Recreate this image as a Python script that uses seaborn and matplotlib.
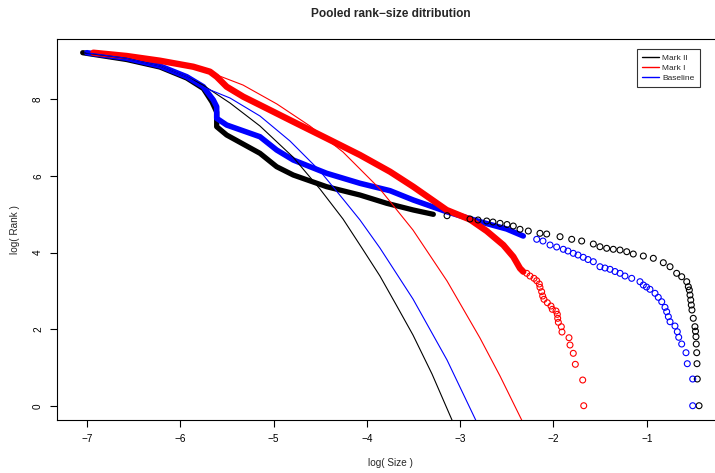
import matplotlib
matplotlib.use("Agg")
import matplotlib.pyplot as plt
from matplotlib.lines import Line2D
import seaborn as sns

# ---------------- data (log Size, log Rank) ----------------
# Mark II (black): dense part of the rank-size points
mk2_band_x = [-7.046, -6.574, -6.218, -5.931, -5.753, -5.660, -5.610, -5.610, -5.503, -5.146,
              -4.967, -4.789, -4.431, -4.074, -3.788, -3.503, -3.288]
mk2_band_y = [9.217, 9.039, 8.843, 8.556, 8.282, 7.930, 7.668, 7.285, 7.068, 6.590,
              6.240, 6.023, 5.718, 5.501, 5.285, 5.110, 4.997]
# Mark II (black): separated points of the tail
mk2_pts_x = [-3.141, -2.895, -2.809, -2.716, -2.649, -2.573, -2.498, -2.431, -2.359, -2.270,
             -2.145, -2.073, -1.930, -1.805, -1.698, -1.573, -1.502, -1.430, -1.359, -1.287,
             -1.215, -1.145, -1.037, -0.930, -0.823, -0.751, -0.680, -0.626, -0.572, -0.555,
             -0.544, -0.537, -0.529, -0.523, -0.516, -0.502, -0.484, -0.478, -0.473, -0.470,
             -0.465, -0.462, -0.459, -0.440]
mk2_pts_y = [4.961, 4.875, 4.849, 4.823, 4.796, 4.762, 4.731, 4.692, 4.606, 4.561,
             4.501, 4.483, 4.413, 4.345, 4.300, 4.222, 4.151, 4.110, 4.084, 4.065,
             4.021, 3.961, 3.909, 3.849, 3.734, 3.629, 3.457, 3.368, 3.238, 3.107,
             3.021, 2.890, 2.760, 2.629, 2.499, 2.282, 2.063, 1.945, 1.802, 1.611,
             1.384, 1.097, 0.697, 0.000]
# Mark II fitted curve
mk2_fit_x = [-7.046, -6.574, -6.218, -5.931, -5.757, -5.467, -5.146, -4.792, -4.503, -4.256,
             -4.053, -3.860, -3.685, -3.506, -3.302, -3.088]
mk2_fit_y = [9.217, 9.071, 8.870, 8.590, 8.373, 7.903, 7.303, 6.493, 5.658, 4.875,
             4.117, 3.386, 2.629, 1.846, 0.828, -0.373]

# Mark I (red)
mk1_band_x = [-6.932, -6.574, -6.218, -5.861, -5.682, -5.610, -5.503, -5.325, -5.146, -4.789,
              -4.431, -4.074, -3.752, -3.503, -3.145, -2.895, -2.716, -2.538, -2.431, -2.359,
              -2.324]
mk1_band_y = [9.217, 9.131, 9.008, 8.851, 8.721, 8.590, 8.329, 8.068, 7.851, 7.415,
              6.982, 6.546, 6.110, 5.718, 5.110, 4.862, 4.561, 4.196, 3.890, 3.587,
              3.499]
mk1_pts_x = [-2.287, -2.252, -2.209, -2.180, -2.152, -2.145, -2.127, -2.116, -2.102, -2.066,
             -2.027, -2.013, -1.973, -1.959, -1.955, -1.948, -1.916, -1.909, -1.834, -1.823,
             -1.788, -1.766, -1.687, -1.676]
mk1_pts_y = [3.457, 3.386, 3.326, 3.264, 3.178, 3.091, 2.977, 2.864, 2.778, 2.689,
             2.603, 2.517, 2.473, 2.386, 2.282, 2.178, 2.063, 1.924, 1.775, 1.585,
             1.368, 1.081, 0.671, 0.000]
mk1_fit_x = [-6.932, -6.574, -6.218, -5.861, -5.682, -5.607, -5.328, -4.964, -4.610, -4.256,
             -3.860, -3.506, -3.141, -2.788, -2.573, -2.341]
mk1_fit_y = [9.217, 9.131, 9.008, 8.851, 8.721, 8.634, 8.373, 7.877, 7.303, 6.624,
             5.658, 4.587, 3.256, 1.768, 0.775, -0.373]

# Baseline (blue)
base_band_x = [-7.003, -6.574, -6.218, -5.931, -5.753, -5.646, -5.610, -5.610, -5.503, -5.146,
               -4.967, -4.789, -4.431, -4.074, -3.752, -3.503, -3.145, -2.788, -2.502, -2.324]
base_band_y = [9.217, 9.071, 8.870, 8.590, 8.329, 7.982, 7.807, 7.504, 7.329, 7.023,
               6.676, 6.415, 6.068, 5.807, 5.614, 5.371, 5.065, 4.804, 4.614, 4.431]
base_pts_x = [-2.180, -2.113, -2.037, -1.966, -1.895, -1.845, -1.788, -1.737, -1.681, -1.630,
              -1.573, -1.502, -1.448, -1.394, -1.341, -1.287, -1.234, -1.162, -1.073, -1.037,
              -1.003, -0.966, -0.912, -0.877, -0.840, -0.805, -0.787, -0.769, -0.751, -0.698,
              -0.673, -0.658, -0.626, -0.580, -0.566, -0.508, -0.508]
base_pts_y = [4.345, 4.300, 4.196, 4.144, 4.084, 4.039, 3.979, 3.935, 3.875, 3.817,
              3.760, 3.629, 3.595, 3.561, 3.504, 3.457, 3.386, 3.326, 3.238, 3.151,
              3.099, 3.039, 2.935, 2.830, 2.715, 2.569, 2.454, 2.324, 2.193, 2.081,
              1.932, 1.786, 1.611, 1.384, 1.097, 0.697, 0.000]
base_fit_x = [-7.003, -6.574, -6.218, -5.931, -5.757, -5.467, -5.146, -4.824, -4.503, -4.256,
              -4.074, -3.860, -3.506, -3.141, -2.834]
base_fit_y = [9.217, 9.071, 8.870, 8.590, 8.321, 8.034, 7.564, 6.911, 6.128, 5.397,
              4.849, 4.117, 2.786, 1.193, -0.373]

series_names = ["Mark II", "Mark I", "Baseline"]
series_colors = ["black", "red", "blue"]
x_ticks = [-7, -6, -5, -4, -3, -2, -1]
y_ticks = [0, 2, 4, 6, 8]

# ---------------- plotting ----------------
sns.set_theme(style="white")
plt.rcParams['font.family'] = ['Liberation Sans', 'DejaVu Sans']

W, H = 715, 473
fig = plt.figure(figsize=(W / 100, H / 100), dpi=100)
ax = fig.add_axes([57 / W, 53 / H, 658 / W, 381.2 / H])

groups = [
    (mk2_band_x, mk2_band_y, mk2_pts_x, mk2_pts_y, "black", 3.8),
    (base_band_x, base_band_y, base_pts_x, base_pts_y, "blue", 4.0),
    (mk1_band_x, mk1_band_y, mk1_pts_x, mk1_pts_y, "red", 4.6),
]
for bx, by, px, py, col, lw in groups:
    sns.lineplot(x=bx, y=by, ax=ax, sort=False, estimator=None, color=col,
                 linewidth=lw, solid_capstyle="round", solid_joinstyle="round", zorder=2)
    sns.scatterplot(x=px, y=py, ax=ax, s=18, marker="o", color=col,
                    facecolor="none", edgecolor=col, linewidth=0.8, zorder=3)

for fx, fy, col in [(mk2_fit_x, mk2_fit_y, "black"), (mk1_fit_x, mk1_fit_y, "red"),
                    (base_fit_x, base_fit_y, "blue")]:
    sns.lineplot(x=fx, y=fy, ax=ax, sort=False, estimator=None, color=col,
                 linewidth=0.8, zorder=4, solid_joinstyle="round")

ax.set_xlim(-7.3215, -0.269)
ax.set_ylim(-0.373, 9.58)
ax.set_xticks(x_ticks)
ax.set_yticks(y_ticks)
ax.set_xticklabels([f"\u2212{abs(t)}" for t in x_ticks])
ax.set_yticklabels([str(t) for t in y_ticks])
for t in ax.get_yticklabels():
    t.set_rotation(90)
    t.set_va("center")
ax.tick_params(axis="both", direction="out", length=5, width=0.8, color="black",
               labelsize=7.2, labelcolor="black", bottom=True, left=True)
ax.tick_params(axis="x", pad=5)
ax.tick_params(axis="y", pad=5)
for side in ["left", "bottom", "top"]:
    ax.spines[side].set_color("black")
    ax.spines[side].set_linewidth(0.8)
ax.spines["right"].set_visible(False)
ax.grid(False)

ax.set_xlabel("log( Size )", fontsize=7.2)
ax.set_ylabel("log( Rank )", fontsize=7.2)
ax.xaxis.set_label_coords((390 - 57) / 658, (420 - 463) / 381.2)
ax.xaxis.label.set_va("center")
ax.yaxis.set_label_coords((15 - 57) / 658, 0.5)
ax.yaxis.label.set_va("center")

fig.text(391 / W, 1 - 14 / H, "Pooled rank\u2212size ditribution", ha="center", va="center",
         fontsize=8.6, fontweight="bold")

handles = [Line2D([], [], color=c, linewidth=1.0) for c in series_colors]
leg = ax.legend(handles, series_names, loc="upper left",
                bbox_to_anchor=(637.3 / W, 1 - 49.3 / H), bbox_transform=fig.transFigure,
                borderaxespad=0, fontsize=6, frameon=True, fancybox=False,
                handlelength=2.0, handletextpad=0.4, labelspacing=0.25, borderpad=0.6)
leg.get_frame().set_edgecolor("black")
leg.get_frame().set_linewidth(0.8)

fig.savefig("out.png", dpi=100)
